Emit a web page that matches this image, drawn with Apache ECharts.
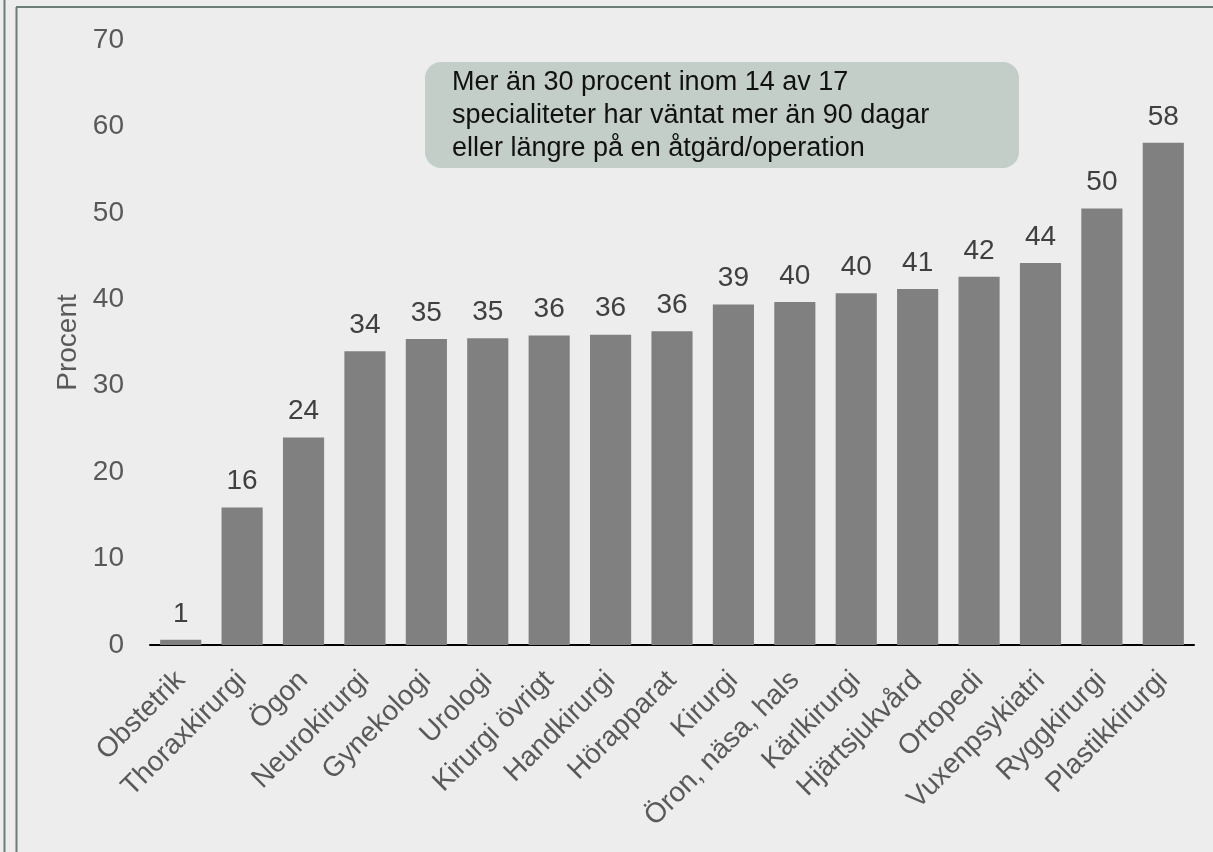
<!DOCTYPE html>
<html>
<head>
<meta charset="utf-8">
<script src="https://cdn.jsdelivr.net/npm/echarts@6/dist/echarts.min.js"></script>
<style>
  html, body { margin: 0; padding: 0; background: #ededed; }
  #main { width: 1213px; height: 852px; }
</style>
</head>
<body>
<div id="main"></div>
<script>
// specialiteter, sorterade
var categories = ['Obstetrik', 'Thoraxkirurgi', 'Ögon', 'Neurokirurgi', 'Gynekologi', 'Urologi',
  'Kirurgi övrigt', 'Handkirurgi', 'Hörapparat', 'Kirurgi', 'Öron, näsa, hals', 'Kärlkirurgi',
  'Hjärtsjukvård', 'Ortopedi', 'Vuxenpsykiatri', 'Ryggkirurgi', 'Plastikkirurgi'];
// andel (procent) som väntat mer än 90 dagar
var values = [0.6, 15.9, 24.0, 34.0, 35.4, 35.5, 35.8, 35.9, 36.3, 39.4, 39.7, 40.7, 41.2, 42.6, 44.2, 50.5, 58.1];
// etiketter som de står i originalet
var valueLabels = [1, 16, 24, 34, 35, 35, 36, 36, 36, 39, 40, 40, 41, 42, 44, 50, 58];
var yTicks = [0, 10, 20, 30, 40, 50, 60, 70];

var noteLines = ['Mer än 30 procent inom 14 av 17', 'specialiteter har väntat mer än 90 dagar', 'eller längre på en åtgärd/operation'];

var frameColor = '#6b7d76';
var font = '"Liberation Sans", Arial, sans-serif';

var chart = echarts.init(document.getElementById('main'));

var option = {
  backgroundColor: '#ededed',
  animation: false,
  grid: { left: 150, right: 19, top: 40, bottom: 207, containLabel: false },
  xAxis: {
    type: 'category',
    data: categories,
    axisLine: { show: true, lineStyle: { color: '#000', width: 2 } },
    axisTick: { show: false },
    axisLabel: {
      rotate: 45, interval: 0, margin: 31,
      color: '#595959', fontSize: 28, fontFamily: font
    }
  },
  yAxis: {
    type: 'value',
    min: yTicks[0], max: yTicks[yTicks.length - 1], interval: 10,
    name: 'Procent', nameLocation: 'middle', nameGap: 66, nameRotate: 90,
    nameTextStyle: { color: '#595959', fontSize: 28, fontFamily: font },
    axisLine: { show: false },
    axisTick: { show: false },
    splitLine: { show: false },
    axisLabel: { color: '#595959', fontSize: 28, fontFamily: font, margin: 26 }
  },
  series: [{
    type: 'bar',
    data: values,
    barCategoryGap: '33%',
    itemStyle: { color: '#808080' },
    label: {
      show: true, position: 'top', distance: 12,
      color: '#404040', fontSize: 28, fontFamily: font,
      formatter: function (p) { return String(valueLabels[p.dataIndex]); }
    }
  }],
  graphic: [
    // ram
    { type: 'line', shape: { x1: 4.5, y1: 0, x2: 4.5, y2: 852 }, style: { stroke: frameColor, lineWidth: 2 } },
    { type: 'line', shape: { x1: 16.5, y1: 7, x2: 16.5, y2: 852 }, style: { stroke: frameColor, lineWidth: 2 } },
    { type: 'line', shape: { x1: 16, y1: 7, x2: 1213, y2: 7 }, style: { stroke: frameColor, lineWidth: 2 } },
    // textruta
    {
      type: 'group', left: 425, top: 62,
      children: [
        { type: 'rect', shape: { x: 0, y: 0, width: 594, height: 106, r: 16 }, style: { fill: '#c4cec8' } },
        {
          type: 'text', x: 27, y: 4,
          style: {
            text: noteLines.join('\n'), fill: '#111', fontSize: 27, fontFamily: font,
            lineHeight: 33
          }
        }
      ]
    }
  ]
};

chart.setOption(option);
</script>
</body>
</html>
